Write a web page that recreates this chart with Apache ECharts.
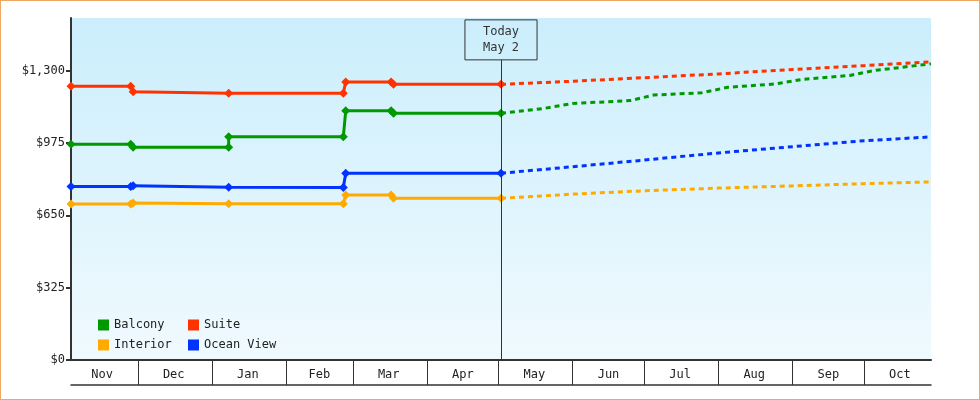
<!DOCTYPE html>
<html><head><meta charset="utf-8">
<script src="https://cdn.jsdelivr.net/npm/echarts@6/dist/echarts.min.js"></script>
<style>html,body{margin:0;padding:0;background:#fff}#c{width:978px;height:398px;border:1px solid #f0a860}</style>
</head><body><div id="c"></div>
<script>
const seriesNames = ['Balcony','Suite','Interior','Ocean View'];
const colors = ['#009900','#ff3300','#ffaa00','#0033ff'];
const monthStarts = ['2024-12-01','2025-01-01','2025-02-01','2025-03-01','2025-04-01','2025-05-01','2025-06-01','2025-07-01','2025-08-01','2025-09-01','2025-10-01'];
const monthMids = ['2024-11-16','2024-12-16','2025-01-16','2025-02-15','2025-03-16','2025-04-16','2025-05-16','2025-06-16','2025-07-16','2025-08-16','2025-09-16','2025-10-16'];
const monthNames = ['Jan','Feb','Mar','Apr','May','Jun','Jul','Aug','Sep','Oct','Nov','Dec'];
const yTicks = [0,325,650,975,1300];
const today = '2025-05-02';
const balconyHist = [['2024-11-03',969],['2024-11-28',969],['2024-11-29',955],['2025-01-08',955],['2025-01-08',1003],['2025-02-25',1003],['2025-02-26',1119],['2025-03-17',1119],['2025-03-18',1108],['2025-05-02',1108]];
const suiteHist = [['2024-11-03',1229],['2024-11-28',1229],['2024-11-29',1205],['2025-01-08',1198],['2025-02-25',1198],['2025-02-26',1249],['2025-03-17',1249],['2025-03-18',1238],['2025-05-02',1238]];
const interiorHist = [['2024-11-03',701],['2024-11-28',701],['2024-11-29',705],['2025-01-08',702],['2025-02-25',702],['2025-02-26',741],['2025-03-17',741],['2025-03-18',726],['2025-05-02',726]];
const oceanHist = [['2024-11-03',779],['2024-11-28',779],['2024-11-29',783],['2025-01-08',776],['2025-02-25',775],['2025-02-26',839],['2025-05-02',839]];
const balconyFc = [['2025-05-02',1108],['2025-05-20',1130],['2025-06-01',1152],['2025-06-25',1165],['2025-07-05',1190],['2025-07-25',1200],['2025-08-05',1225],['2025-08-25',1240],['2025-09-05',1260],['2025-09-25',1278],['2025-10-05',1300],['2025-10-29',1330]];
const suiteFc = [['2025-05-02',1238],['2025-06-01',1252],['2025-07-01',1268],['2025-08-01',1285],['2025-09-01',1305],['2025-10-01',1322],['2025-10-29',1339]];
const oceanFc = [['2025-05-02',839],['2025-06-01',868],['2025-07-01',898],['2025-08-01',930],['2025-09-01',958],['2025-10-01',985],['2025-10-29',1002]];
const interiorFc = [['2025-05-02',726],['2025-06-01',745],['2025-07-01',760],['2025-08-01',772],['2025-09-01',782],['2025-10-01',792],['2025-10-29',800]];

const T = s => Date.parse(s+'T00:00:00Z');
const conv = arr => arr.map(p=>[T(p[0]),p[1]]);
const hist = [balconyHist,suiteHist,interiorHist,oceanHist].map(conv);
const fc = [balconyFc,suiteFc,interiorFc,oceanFc].map(conv);
const xMin = T('2024-11-03'), xMax = T('2025-10-29');
const font = 'DejaVu Sans Mono';
const series = [];
seriesNames.forEach((n,i)=>{
  series.push({name:n,type:'line',data:hist[i],color:colors[i],symbol:'diamond',symbolSize:9,
    lineStyle:{width:3},z:3});
  series.push({name:n+' fc',type:'line',data:fc[i],color:colors[i],showSymbol:false,
    lineStyle:{width:3,type:[5,4]},z:2});
});
series[0].markLine = {symbol:'none',silent:true,animation:false,
  lineStyle:{color:'#333',width:1,type:'solid'},
  label:{position:'end',formatter:'Today\nMay 2',fontFamily:font,fontSize:12,color:'#333',
    borderColor:'#333',borderWidth:1,padding:[4,18,4,18],lineHeight:16,distance:0},
  data:[[{coord:[T(today),0]},{coord:[T(today),1348]}]]};
const chart = echarts.init(document.getElementById('c'));
chart.setOption({
  animation:false,
  grid:{left:70,right:48,top:17,bottom:39,show:true,borderWidth:0,
    backgroundColor:new echarts.graphic.LinearGradient(0,0,0,1,[{offset:0,color:'#cbeefc'},{offset:1,color:'#f0fafe'}])},
  xAxis:[{type:'value',min:xMin,max:xMax,
    axisLine:{lineStyle:{color:'#333',width:2}},
    axisTick:{show:true,length:25,customValues:monthStarts.map(T),lineStyle:{color:'#333'}},
    axisLabel:{customValues:monthMids.map(T),fontFamily:font,fontSize:12,color:'#222',margin:9,
      formatter:v=>monthNames[new Date(v).getUTCMonth()]},
    splitLine:{show:false}},
   {type:'value',min:xMin,max:xMax,position:'bottom',offset:25,
    axisLine:{show:true,lineStyle:{color:'#333',width:1.5}},axisTick:{show:false},axisLabel:{show:false},splitLine:{show:false}}],
  yAxis:{type:'value',min:0,max:1536,
    axisLine:{show:true,lineStyle:{color:'#333',width:2}},
    axisTick:{show:true,length:5,lineStyle:{color:'#333',width:2},customValues:yTicks},
    axisLabel:{customValues:yTicks,fontFamily:font,fontSize:12,color:'#222',margin:6,
      formatter:v=>'$'+v.toLocaleString('en-US')},
    splitLine:{show:false}},
  legend:[{data:['Balcony','Interior'],orient:'vertical',left:92,top:313,itemWidth:11,itemHeight:11,itemGap:8,
      icon:'rect',textStyle:{fontFamily:font,fontSize:12,color:'#222'},selectedMode:false},
    {data:['Suite','Ocean View'],orient:'vertical',left:182,top:313,itemWidth:11,itemHeight:11,itemGap:8,
      icon:'rect',textStyle:{fontFamily:font,fontSize:12,color:'#222'},selectedMode:false}],
  series
});
</script></body></html>
